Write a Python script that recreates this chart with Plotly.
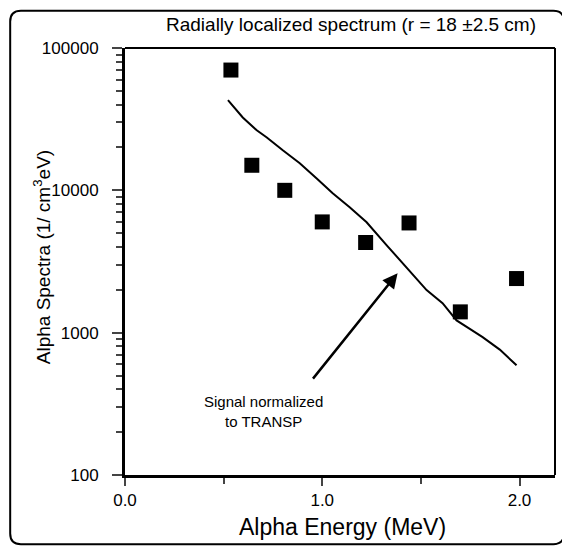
import plotly.graph_objects as go
import math

# Measured points (squares)
energy_pts = [0.537, 0.643, 0.81, 1.0, 1.22, 1.44, 1.70, 1.985]
spectra_pts = [70000, 15000, 10000, 6000, 4300, 5900, 1400, 2400]

# TRANSP curve
energy_line = [0.522, 0.597, 0.668, 0.719, 0.80, 0.886, 0.972, 1.053, 1.139, 1.225,
               1.327, 1.428, 1.529, 1.61, 1.65, 1.681, 1.75, 1.813, 1.90, 1.985]
spectra_line = [43000, 32500, 26400, 23500, 19100, 15500, 12100, 9530, 7600, 5960,
                4110, 2880, 1990, 1610, 1380, 1220, 1060, 930, 760, 590]

y_tickvals = [100, 1000, 10000, 100000]
y_ticktext = ["100", "1000", "10000", "100000"]
x_tickvals = [0.0, 1.0, 2.0]
x_ticktext = ["0.0", "1.0", "2.0"]

FONT = "Liberation Sans, Arial, Helvetica, sans-serif"

fig = go.Figure()
fig.add_trace(go.Scatter(x=energy_line, y=spectra_line, mode="lines",
                         line=dict(color="black", width=2), showlegend=False))
fig.add_trace(go.Scatter(x=energy_pts, y=spectra_pts, mode="markers",
                         marker=dict(symbol="square", size=15, color="black"),
                         showlegend=False))

minor_y = [m * 10 ** d for d in range(2, 5) for m in range(2, 10)]

fig.update_layout(
    width=562, height=542,
    paper_bgcolor="white", plot_bgcolor="white",
    margin=dict(l=117, r=15, t=40, b=75),
    font=dict(family=FONT, color="black"),
    xaxis=dict(range=[0, 2.18], tickvals=x_tickvals, ticktext=x_ticktext,
               showline=True, linecolor="black", linewidth=3, showgrid=False,
               zeroline=False, ticks="outside", ticklen=8, tickwidth=2,
               tickfont=dict(size=17), ticklabelstandoff=0,
               minor=dict(tickvals=[0.5, 1.5], ticks="outside", ticklen=6, tickwidth=2,
                          showgrid=False)),
    yaxis=dict(type="log", range=[2, 5], tickvals=y_tickvals, ticktext=y_ticktext,
               showline=True, linecolor="black", linewidth=3, showgrid=False,
               zeroline=False, ticks="outside", ticklen=10, tickwidth=2,
               tickfont=dict(size=17), ticklabelstandoff=10,
               minor=dict(tickvals=minor_y, ticks="outside", ticklen=6, tickwidth=2,
                          showgrid=False)),
)

# top and right frame lines
fig.add_shape(type="line", xref="paper", yref="paper", x0=0, x1=1, y0=1, y1=1,
              line=dict(color="black", width=2))
fig.add_shape(type="line", xref="paper", yref="paper", x0=1, x1=1, y0=0, y1=1,
              line=dict(color="black", width=2))

# outer rounded border
x0, x1 = -0.267, 1.021
y0, y1 = -0.162, 1.087
rx, ry = 0.025, 0.025
path = (f"M {x0+rx},{y1} L {x1-rx},{y1} Q {x1},{y1} {x1},{y1-ry} "
        f"L {x1},{y0+ry} Q {x1},{y0} {x1-rx},{y0} L {x0+rx},{y0} "
        f"Q {x0},{y0} {x0},{y0+ry} L {x0},{y1-ry} Q {x0},{y1} {x0+rx},{y1} Z")
fig.add_shape(type="path", xref="paper", yref="paper", path=path,
              line=dict(color="black", width=2))

fig.add_annotation(text="Radially localized spectrum (r = 18 ±2.5 cm)",
                   xref="paper", yref="paper", x=0.525, y=1.054, yanchor="middle",
                   showarrow=False, font=dict(size=19))

fig.add_annotation(text="Alpha Energy (MeV)", xref="paper", yref="paper",
                   x=0.505, y=-0.122, yanchor="middle", showarrow=False,
                   font=dict(size=23))

fig.add_annotation(text="Alpha Spectra (1/ cm<sup>3</sup>eV)", xref="paper",
                   yref="paper", x=-0.193, y=0.51, textangle=-90, xanchor="center",
                   yanchor="middle", showarrow=False, font=dict(size=19))

fig.add_annotation(text="Signal normalized<br>to TRANSP", x=0.70,
                   y=math.log10(280), xref="x", yref="y", showarrow=False,
                   font=dict(size=15), align="center")

fig.add_annotation(x=1.382, y=math.log10(2617), ax=0.947, ay=math.log10(464),
                   xref="x", yref="y", axref="x", ayref="y", text="",
                   showarrow=True, arrowhead=2, arrowsize=1.2, arrowwidth=2.5,
                   arrowcolor="black")

fig.write_html("out.html")
